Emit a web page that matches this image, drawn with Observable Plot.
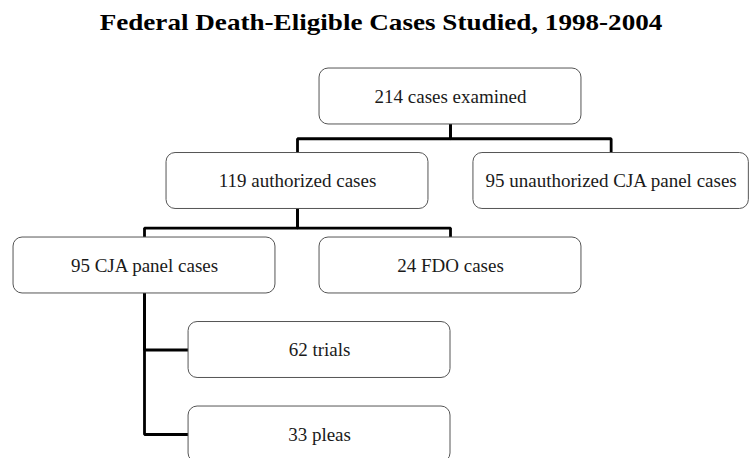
<!DOCTYPE html>
<html><head><meta charset="utf-8">
<script src="https://cdn.jsdelivr.net/npm/d3@7"></script>
<script src="https://cdn.jsdelivr.net/npm/@observablehq/plot@0.6"></script>
<style>
body{margin:0;background:#fff;}
#title{height:50px;box-sizing:border-box;padding-top:9px;text-align:center;}
#title span{display:inline-block;font-weight:bold;font-size:24px;font-family:"Liberation Serif","Times New Roman",Times,serif;color:#000;transform:scaleX(1.13);transform-origin:50% 50%;margin-left:12px;}
#chart svg text{font-family:"Liberation Serif","Times New Roman",Times,serif !important;}
</style></head><body>
<div id="title"><span>Federal Death-Eligible Cases Studied, 1998-2004</span></div>
<div id="chart"></div>
<script>
// ---- data ----
const nodeIds = ["examined","authorized","unauthorized","cja","fdo","trials","pleas"];
const nodeCounts = [214, 119, 95, 95, 24, 62, 33];
const nodeLabels = ["cases examined","authorized cases","unauthorized CJA panel cases","CJA panel cases","FDO cases","trials","pleas"];
const nodeParents = [null,"examined","examined","authorized","authorized","cja","cja"];

// ---- layout spec (grid units, not data) ----
const layoutCol  = [2, 1, 3.05, 0, 2, 1.144, 1.144];
const layoutRow  = [0, 1, 1, 2, 2, 3, 4];
const layoutSpan = [1.712, 1.712, 1.8, 1.712, 1.712, 1.712, 1.712];
const connectorKind = [null, "elbow", "elbow", "elbow", "elbow", "side", "side"];
const junctionFrac = {examined: 0.5, authorized: 0.67};
const halfH = 0.331;

const nodes = nodeIds.map((id, i) => ({
  id, label: `${nodeCounts[i]} ${nodeLabels[i]}`,
  col: layoutCol[i], row: layoutRow[i], span: layoutSpan[i],
  x1: layoutCol[i] - layoutSpan[i] / 2, x2: layoutCol[i] + layoutSpan[i] / 2,
  y1: layoutRow[i] - halfH, y2: layoutRow[i] + halfH
}));
const byId = Object.fromEntries(nodes.map(n => [n.id, n]));

const segs = [];
nodes.forEach((c, i) => {
  const pid = nodeParents[i];
  if (!pid) return;
  const p = byId[pid];
  let pts;
  if (connectorKind[i] === "elbow") {
    const jy = p.y2 + junctionFrac[pid] * (c.y1 - p.y2);
    pts = [[p.col, p.y2], [p.col, jy], [c.col, jy], [c.col, c.y1]];
  } else {
    pts = [[p.col, p.y2], [p.col, c.row], [c.x1, c.row]];
  }
  pts.forEach(([x, y]) => segs.push({edge: c.id, x, y}));
});

const chart = Plot.plot({
  width: 749,
  height: 408,
  margin: 0,
  style: {background: "#fff"},
  x: {type: "linear", domain: [0, 4], range: [144, 756], axis: null},
  y: {type: "linear", domain: [0, 4], range: [46, 384], axis: null},
  marks: [
    Plot.line(segs, {x: "x", y: "y", z: "edge", stroke: "#000", strokeWidth: 2.8, strokeLinejoin: "miter", strokeLinecap: "square", curve: "linear"}),
    Plot.rect(nodes, {x1: "x1", x2: "x2", y1: "y1", y2: "y2", rx: 9, fill: "#fff", stroke: "#555", strokeWidth: 1}),
    Plot.text(nodes, {x: "col", y: "row", text: "label", fontSize: 19, fontFamily: "Liberation Serif, Times New Roman, serif", fill: "#1a1a1a"})
  ]
});
chart.style.overflow = "visible";
document.getElementById("chart").appendChild(chart);
</script>
</body></html>
